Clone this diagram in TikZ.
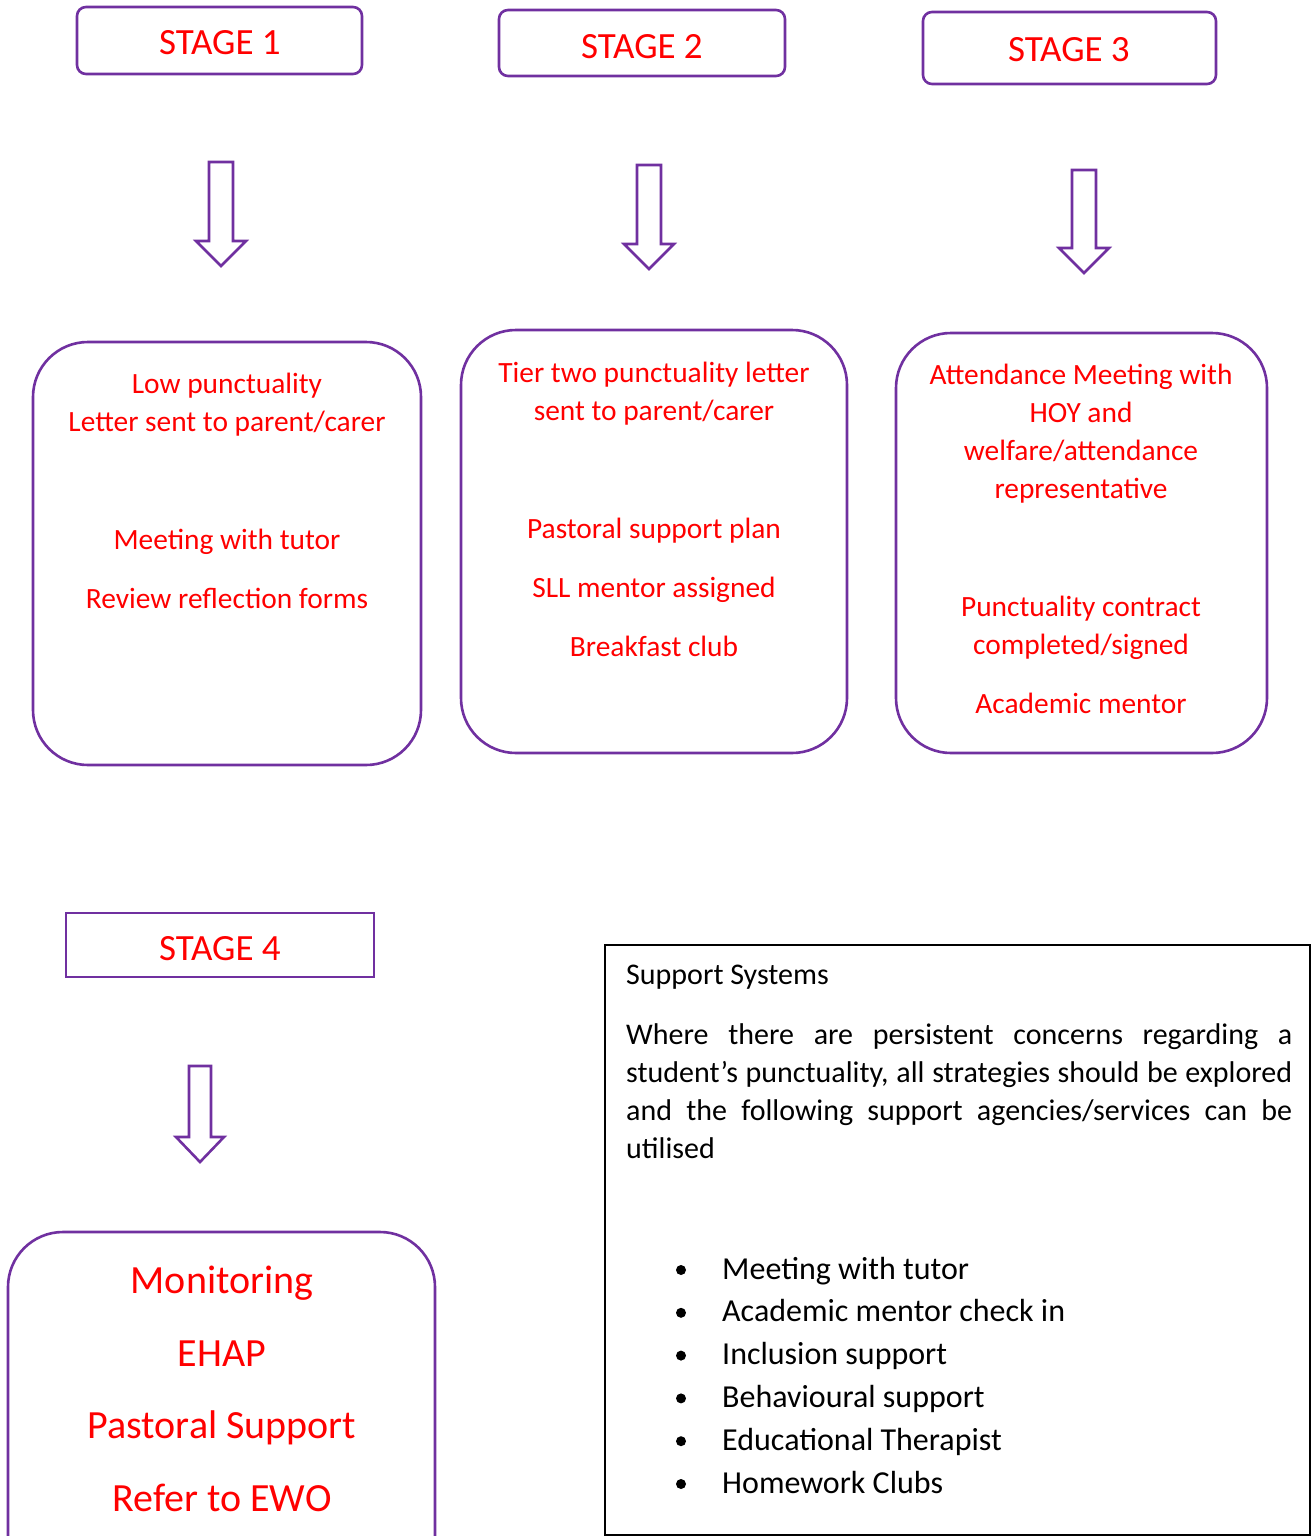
\documentclass[tikz,border=0pt]{standalone}
\usepackage{fontspec}
\setmainfont{Carlito}
\definecolor{purp}{RGB}{112,48,160}
\definecolor{txtred}{RGB}{255,0,0}
\tikzset{
  stagebox/.style={draw=purp, line width=2.6pt, rounded corners=9pt},
  bigbox/.style={draw=purp, line width=2.6pt, rounded corners=55pt},
  blockarrow/.style={draw=purp, line width=2.6pt, fill=white, line join=miter},
  rt/.style={text=txtred, font=\fontsize{29.4}{32}\selectfont, anchor=base},
  st/.style={text=txtred, font=\fontsize{37}{40}\selectfont, anchor=base},
  bt/.style={text=txtred, font=\fontsize{40}{44}\selectfont, anchor=base},
  kt/.style={text=black, font=\fontsize{30}{38}\selectfont, anchor=base west, inner sep=0pt},
  lt/.style={text=black, font=\fontsize{32}{38}\selectfont, anchor=base west, inner sep=0pt},
}
\newcommand{\blockarr}[4]{% cx, top, tip, halfshaft
  \draw[blockarrow] ({#1-#4},#2) -- ({#1+#4},#2) -- ({#1+#4},{#3-25}) -- ({#1+#4+13},{#3-25}) -- (#1,#3) -- ({#1-#4-13},{#3-25}) -- ({#1-#4},{#3-25}) -- cycle;}
\begin{document}
\begin{tikzpicture}[x=1pt,y=-1pt]
\useasboundingbox (0,0) rectangle (1311,1536);
% stage boxes
\draw[stagebox] (77,7) rectangle (362,74);
\node[st] (s1) at (220,55) {STAGE 1};
\draw[stagebox] (499,10) rectangle (785,76);
\node[st] (s2) at (642,59) {STAGE 2};
\draw[stagebox] (923,12) rectangle (1216,84);
\node[st] (s3) at (1069,62) {STAGE 3};
\draw[purp, line width=2.6pt] (66,913) rectangle (374,977);
\node[st] (s4) at (220,960) {STAGE 4};
% arrows
\blockarr{221}{162}{266}{12}
\blockarr{649}{165}{269}{12}
\blockarr{1084}{170}{273}{12}
\blockarr{200}{1066}{1162}{11}
% big boxes
\draw[bigbox] (33,342) rectangle (421,765);
\node[rt] (a1) at (227,393) {Low punctuality};
\node[rt] (a2) at (227,431) {Letter sent to parent/carer};
\node[rt] (a3) at (227,549) {Meeting with tutor};
\node[rt] (a4) at (227,608) {Review reflection forms};
\draw[bigbox] (461,330) rectangle (847,753);
\node[rt] (b1) at (654,382) {Tier two punctuality letter};
\node[rt] (b2) at (654,420) {sent to parent/carer};
\node[rt] (b3) at (654,538) {Pastoral support plan};
\node[rt] (b4) at (654,597) {SLL mentor assigned};
\node[rt] (b5) at (654,656) {Breakfast club};
\draw[bigbox] (896,333) rectangle (1267,753);
\node[rt] (c1) at (1081,384) {Attendance Meeting with};
\node[rt] (c2) at (1081,422) {HOY and};
\node[rt] (c3) at (1081,460) {welfare/attendance};
\node[rt] (c4) at (1081,498) {representative};
\node[rt] (c5) at (1081,616) {Punctuality contract};
\node[rt] (c6) at (1081,654) {completed/signed};
\node[rt] (c7) at (1081,713) {Academic mentor};
\draw[bigbox] (8,1232) rectangle (435,1600);
\node[bt] (d1) at (222,1293) {Monitoring};
\node[bt] (d2) at (222,1366) {EHAP};
\node[bt] (d3) at (222,1438) {Pastoral Support};
\node[bt] (d4) at (222,1511) {Refer to EWO};
% support box
\draw[black, line width=1.2pt] (605,945) rectangle (1310,1535);
\node[kt] (h) at (626,984) {Support Systems};
\node[kt, text width=666pt, align=justify, anchor=north west] (p) at (626,1023)
 {\hyphenpenalty=10000 Where there are persistent concerns regarding a\linebreak student’s punctuality, all strategies should be explored\linebreak and the following support agencies/services can be\linebreak utilised};
\foreach \t [count=\i] in {Meeting with tutor, Academic mentor check in, Inclusion support, Behavioural support, Educational Therapist, Homework Clubs}{
  \node[lt] (k\i) at (722,{1279+42.8*(\i-1)}) {\t};
  \fill (681,{1270+42.8*(\i-1)}) circle (5pt);
}
\end{tikzpicture}
\end{document}
